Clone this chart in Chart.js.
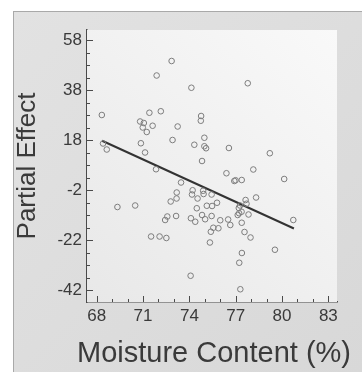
<!DOCTYPE html>
<html>
<head>
<meta charset="utf-8">
<script src="https://cdn.jsdelivr.net/npm/chart.js@4/dist/chart.umd.min.js"></script>
<style>
  html, body { margin: 0; padding: 0; background: #ffffff; }
  #wrap { position: relative; width: 362px; height: 372px; overflow: hidden; }
  #frame {
    position: absolute; left: 13px; top: 11px; right: 0; bottom: 0;
    background: linear-gradient(135deg, #e2e2e2 0%, #d8d8d8 100%);
    border-left: 1px solid #a9a9a9; border-top: 1px solid #a9a9a9;
  }
  canvas { position: absolute; left: 0; top: 0; }
</style>
</head>
<body>
<div id="wrap">
  <div id="frame"></div>
  <canvas id="chart" width="362" height="372"></canvas>
</div>
<script>
'use strict';

// moisture content (%) of each observation
const moisture = [
  68.33, 68.41, 68.65, 69.34, 70.49, 70.81, 71.05, 70.98, 71.24, 71.62,
  71.41, 72.15, 70.86, 71.13, 71.84, 71.88, 72.85, 73.24, 72.91, 73.46,
  73.18, 73.17, 72.79, 73.14, 72.57, 72.43, 71.52, 72.07, 72.51, 74.13,
  74.08, 74.32, 74.21, 74.17, 74.53, 74.48, 74.10, 74.38, 74.76, 74.74,
  74.97, 74.97, 75.08, 74.82, 74.89, 74.92, 75.13, 75.44, 75.47, 74.82,
  75.02, 75.44, 75.79, 76.00, 75.55, 75.39, 75.88, 75.33, 76.56, 76.40,
  76.51, 76.65, 76.91, 76.99, 77.39, 77.78, 78.14, 78.32, 77.64, 77.70,
  77.28, 77.20, 77.38, 77.13, 77.22, 77.83, 77.39, 77.57, 77.96, 77.40,
  77.23, 77.30, 79.21, 79.54, 80.14, 80.73
];

// partial effect of each observation
const partialEffect = [
  28.0, 16.6, 14.2, -8.8, -8.2, 25.4, 24.8, 23.0, 21.2, 23.7,
  28.9, 29.5, 16.7, 13.0, 6.3, 43.8, 49.6, 23.4, 18.0, 1.0,
  -3.0, -5.4, -6.6, -12.4, -12.6, -14.0, -20.6, -20.6, -21.2, 38.9,
  -36.3, 16.1, -2.1, -3.8, -5.4, -9.3, -13.3, -14.7, 27.6, 25.7,
  18.9, 15.5, 14.7, 9.6, -2.3, -3.6, -8.3, -3.8, -8.4, -12.0,
  -13.7, -12.4, -7.1, -14.1, -17.1, -18.7, -17.3, -23.0, 14.8, 4.7,
  -13.8, -16.0, 1.6, 1.9, 2.0, 40.7, 6.2, -5.0, -6.0, -7.5,
  -8.2, -9.2, -10.7, -12.0, -11.3, -11.8, -15.1, -18.8, -21.0, -27.2,
  -31.1, -41.7, 12.7, -25.9, 2.4, -14.0
];

// fitted line end points
const fitX = [68.35, 80.77];
const fitY = [17.7, -17.4];

const xTicks = [68, 71, 74, 77, 80, 83];
const yTicks = [-42, -22, -2, 18, 38, 58];
const xTitle = 'Moisture Content (%)';

const FONT = "'Liberation Sans', Arial, Helvetica, sans-serif";
const INK = '#3a3a3a';

const scatterData = moisture.map((m, i) => ({ x: m, y: partialEffect[i] }));
const fitData = fitX.map((x, i) => ({ x: x, y: fitY[i] }));

// light gradient behind the plot
const plotBackground = {
  id: 'plotBackground',
  beforeDatasetsDraw(chart) {
    const { ctx, chartArea: a } = chart;
    const g = ctx.createLinearGradient(a.right, a.top, a.left, a.bottom);
    g.addColorStop(0, '#f9f9f9');
    g.addColorStop(1, '#e8e8e8');
    ctx.save();
    ctx.fillStyle = g;
    ctx.fillRect(a.left, a.top, a.right - a.left, a.bottom - a.top);
    ctx.restore();
  }
};

// tick marks pointing into the plot, majors longer; x title wider than the plot
const innerTicks = {
  id: 'innerTicks',
  afterDraw(chart) {
    const { ctx, chartArea: a, scales: { x, y } } = chart;
    ctx.save();
    ctx.strokeStyle = '#4a4a4a';
    ctx.lineWidth = 1;
    ctx.beginPath();
    for (let v = xTicks[0]; v <= xTicks[xTicks.length - 1]; v += 1) {
      const px = Math.round(x.getPixelForValue(v)) + 0.5;
      const len = xTicks.includes(v) ? 6 : 3;
      ctx.moveTo(px, a.bottom);
      ctx.lineTo(px, a.bottom - len);
    }
    for (let v = yTicks[0]; v <= yTicks[yTicks.length - 1]; v += 5) {
      const py = Math.round(y.getPixelForValue(v)) + 0.5;
      const len = yTicks.includes(v) ? 6 : 3;
      ctx.moveTo(a.left, py);
      ctx.lineTo(a.left + len, py);
    }
    ctx.stroke();

    ctx.fillStyle = INK;
    ctx.font = '29px ' + FONT;
    ctx.textAlign = 'center';
    ctx.textBaseline = 'alphabetic';
    ctx.fillText(xTitle, (a.left + a.right) / 2 + 2, 362);
    ctx.restore();
  }
};

new Chart(document.getElementById('chart'), {
  type: 'scatter',
  data: {
    datasets: [
      {
        label: 'Observations',
        data: scatterData,
        pointStyle: 'circle',
        pointRadius: 2.8,
        pointBorderWidth: 1,
        pointBorderColor: '#7e7e7e',
        pointBackgroundColor: 'rgba(0,0,0,0)',
        showLine: false
      },
      {
        label: 'Fit',
        data: fitData,
        showLine: true,
        borderColor: '#333333',
        borderWidth: 2,
        pointRadius: 0,
        fill: false
      }
    ]
  },
  options: {
    responsive: false,
    animation: false,
    devicePixelRatio: 1,
    layout: { padding: { left: 0, top: 30, right: 25, bottom: 0 } },
    plugins: {
      legend: { display: false },
      tooltip: { enabled: false }
    },
    scales: {
      x: {
        type: 'linear',
        min: 67.37,
        max: 83.56,
        afterBuildTicks: s => { s.ticks = xTicks.map(v => ({ value: v })); },
        afterFit: s => { s.height = 70; },
        grid: { display: true, drawOnChartArea: false, drawTicks: false },
        border: { display: true, color: '#4a4a4a', width: 1.5 },
        ticks: {
          autoSkip: false,
          maxRotation: 0,
          padding: 4,
          color: INK,
          font: { family: FONT, size: 17 },
          callback: v => String(v)
        },
        title: { display: false }
      },
      y: {
        type: 'linear',
        min: -46.8,
        max: 62,
        afterBuildTicks: s => { s.ticks = yTicks.map(v => ({ value: v })); },
        afterFit: s => { s.width = 87; },
        grid: { display: true, drawOnChartArea: false, drawTicks: false },
        border: { display: true, color: '#4a4a4a', width: 1.5 },
        ticks: {
          autoSkip: false,
          padding: 5,
          color: INK,
          font: { family: FONT, size: 17 },
          callback: v => String(v)
        },
        title: {
          display: true,
          text: 'Partial Effect',
          color: INK,
          font: { family: FONT, size: 26 },
          padding: { top: 12, bottom: 0 }
        }
      }
    }
  },
  plugins: [plotBackground, innerTicks]
});
</script>
</body>
</html>
